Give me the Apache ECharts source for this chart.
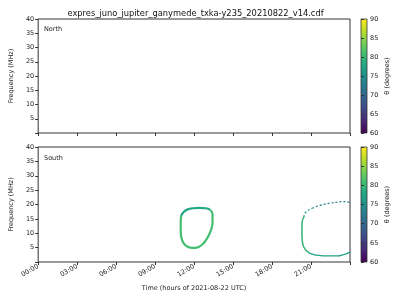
<!DOCTYPE html>
<html><head><meta charset="utf-8">
<script src="https://cdn.jsdelivr.net/npm/echarts@6/dist/echarts.min.js"></script>
<style>html,body{margin:0;padding:0;background:#fff}#c{width:400px;height:300px}</style>
</head><body><div id="c"></div>
<script>
// Segments of the south-hemisphere emission contours: [hour, frequency MHz]; theta (deg) per segment
const loopATop = [[11.0,16.0],[11.2,17.4],[11.5,18.3],[11.9,18.7],[12.4,18.8],[12.9,18.7],[13.25,18.1]];
const loopATopTheta = 78;
const loopASides = [[13.25,18.1],[13.42,16.5],[13.42,14.0],[13.35,11.8],[13.15,9.5],[12.9,7.5],[12.6,6.0],[12.2,5.0],[11.9,4.9],[11.5,5.3],[11.2,6.5],[11.02,8.5],[10.97,11.0],[10.97,13.5],[11.0,16.0]];
const loopASidesTheta = 81;
const loopBLeft = [[20.45,15.6],[20.32,14.0],[20.3,11.0],[20.32,8.0],[20.44,5.2],[20.85,3.2]];
const loopBLeftTheta = 80;
const loopBBottom = [[20.85,3.2],[21.3,2.5],[22.0,2.1],[22.6,2.1],[23.1,2.1],[23.45,2.5],[23.75,2.9],[24.0,3.6]];
const loopBBottomTheta = 77.5;
const loopBArcLow = [[20.45,15.6],[20.6,17.3],[21.1,18.7]];
const loopBArcLowTheta = 76;
const loopBArcHigh = [[21.1,18.7],[21.75,19.8],[22.5,20.5],[23.0,20.8],[23.5,21.0],[23.8,20.9],[24.0,20.6]];
const loopBArcHighTheta = 73;
const northPoints = [];
const hourTicks = [0,3,6,9,12,15,18,21];
const freqTicks = [5,10,15,20,25,30,35,40];
const thetaTicks = [60,65,70,75,80,85,90];
const titleText = 'expres_juno_jupiter_ganymede_txka-y235_20210822_v14.cdf';

const viridis = ['#440154','#482475','#414487','#355f8d','#2a788e','#21918c','#22a884','#44bf70','#7ad151','#bddf26','#fde725'];
function cmap(theta){
  let t = Math.max(0, Math.min(1, (theta-60)/30))*10;
  const i = Math.min(9, Math.floor(t)), f = t-i;
  const a = viridis[i], b = viridis[i+1];
  const p = (s,k)=>parseInt(s.substr(1+2*k,2),16);
  const c = [0,1,2].map(k=>Math.round(p(a,k)*(1-f)+p(b,k)*f));
  return 'rgb('+c.join(',')+')';
}
const F = 'DejaVu Sans';
const chart = echarts.init(document.getElementById('c'), null, {renderer:'canvas'});
const grids = [
  {left:31, top:19, width:319, height:114, show:true, borderColor:'#333', borderWidth:1},
  {left:31, top:147, width:319, height:115, show:true, borderColor:'#333', borderWidth:1},
  {left:361, top:19, width:6, height:114, show:true, borderColor:'#333', borderWidth:0.8},
  {left:361, top:147, width:6, height:115, show:true, borderColor:'#333', borderWidth:0.8}
];
function hh(v){ return (v<10?'0':'')+v+':00'; }
function xAx(i, labels){ return {gridIndex:i, type:'value', min:0, max:24, interval:3,
  axisLine:{show:false}, splitLine:{show:false},
  axisTick:{show:true, length:3, lineStyle:{color:'#333'}},
  axisLabel:{show:labels, rotate:30, fontSize:6.5, fontFamily:F, color:'#222', margin:4,
    formatter:v=> hourTicks.indexOf(v)>=0 ? hh(v) : ''},
  name: labels ? 'Time (hours of 2021-08-22 UTC)' : '', nameLocation:'middle', nameGap:23,
  nameTextStyle:{fontSize:6.5, fontFamily:F, color:'#222'}}; }
function yAx(i){ return {gridIndex:i, type:'value', min:0, max:40, interval:5,
  axisLine:{show:false}, splitLine:{show:false},
  axisTick:{show:true, length:3, lineStyle:{color:'#333'}},
  axisLabel:{fontSize:6.5, fontFamily:F, color:'#222', margin:4,
    formatter:v=> freqTicks.indexOf(v)>=0 ? String(v) : ''},
  name:'Frequency (MHz)', nameLocation:'middle', nameGap:18,
  nameTextStyle:{fontSize:6.5, fontFamily:F, color:'#222'}}; }
function cAx(i){ return {gridIndex:i, type:'value', min:60, max:90, interval:5, position:'right',
  axisLine:{show:false}, splitLine:{show:false},
  axisTick:{show:true, length:3, lineStyle:{color:'#333'}},
  axisLabel:{fontSize:6.5, fontFamily:F, color:'#222', margin:3,
    formatter:v=> thetaTicks.indexOf(v)>=0 ? String(v) : ''},
  name:'θ (degrees)', nameLocation:'middle', nameGap:17, nameRotate:90,
  nameTextStyle:{fontSize:6.5, fontFamily:F, color:'#222'}}; }
const grad = ()=> new echarts.graphic.LinearGradient(0,1,0,0, viridis.map((c,k)=>({offset:k/10, color:c})));
function seg(data, theta, width, dashed){
  return {type:'line', xAxisIndex:1, yAxisIndex:1, data:data, smooth:0.5, showSymbol:false,
    lineStyle:{width:width, color:cmap(theta), type: dashed ? [2,2] : 'solid'}};
}
const option = {
  animation:false, backgroundColor:'#fff',
  title:{text:titleText, left:190.5, textAlign:'center', top:5, textStyle:{fontSize:8.3, fontFamily:F, fontWeight:'normal', color:'#111'}},
  grid:grids,
  xAxis:[xAx(0,false), xAx(1,true), {gridIndex:2,type:'value',show:false,min:0,max:1}, {gridIndex:3,type:'value',show:false,min:0,max:1}],
  yAxis:[yAx(0), yAx(1), cAx(2), cAx(3)],
  graphic:[
    {type:'rect', shape:{x:361,y:19,width:6,height:114}, style:{fill:grad()}, z:-1},
    {type:'rect', shape:{x:361,y:147,width:6,height:115}, style:{fill:grad()}, z:-1},
    {type:'text', left:44, top:26, style:{text:'North', fontSize:6.5, fontFamily:F, fill:'#222'}},
    {type:'text', left:44, top:155, style:{text:'South', fontSize:6.5, fontFamily:F, fill:'#222'}}
  ],
  series:[
    {type:'line', xAxisIndex:0, yAxisIndex:0, data:northPoints, showSymbol:false},
    seg(loopATop, loopATopTheta, 2.2, false),
    seg(loopASides, loopASidesTheta, 2.2, false),
    seg(loopBLeft, loopBLeftTheta, 1.6, false),
    seg(loopBBottom, loopBBottomTheta, 1.3, false),
    seg(loopBArcLow, loopBArcLowTheta, 1.3, true),
    seg(loopBArcHigh, loopBArcHighTheta, 1.3, true)
  ]
};
chart.setOption(option);
</script></body></html>
